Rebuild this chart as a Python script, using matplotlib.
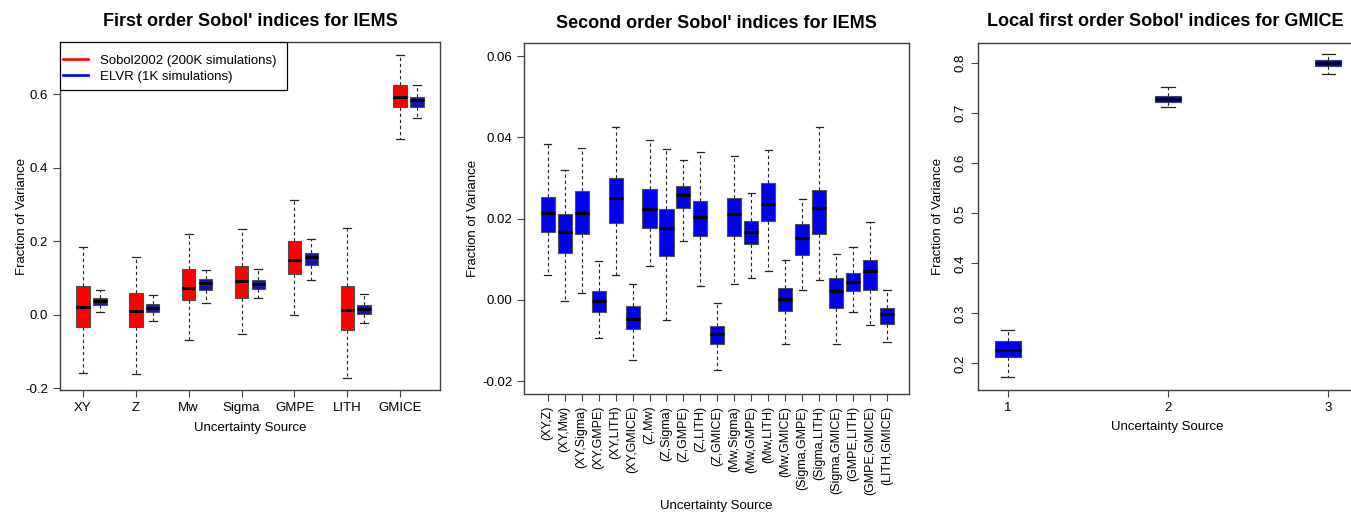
import matplotlib
matplotlib.use("Agg")
import matplotlib.pyplot as plt
from matplotlib.patches import Rectangle

plt.rcParams['font.family'] = ['Liberation Sans', 'DejaVu Sans']
plt.rcParams['axes.unicode_minus'] = False

# first order indices (box stats)
sources = ['XY', 'Z', 'Mw', 'Sigma', 'GMPE', 'LITH', 'GMICE']
sobol_low = [-0.160, -0.162, -0.069, -0.053, -0.002, -0.172, 0.479]
sobol_q1 = [-0.033, -0.033, 0.040, 0.045, 0.110, -0.043, 0.565]
sobol_med = [0.022, 0.010, 0.072, 0.092, 0.149, 0.012, 0.591]
sobol_q3 = [0.078, 0.058, 0.124, 0.133, 0.200, 0.078, 0.625]
sobol_high = [0.184, 0.156, 0.220, 0.234, 0.313, 0.237, 0.706]

elvr_low = [0.006, -0.016, 0.033, 0.045, 0.093, -0.023, 0.534]
elvr_q1 = [0.026, 0.008, 0.067, 0.069, 0.135, 0.002, 0.566]
elvr_med = [0.036, 0.019, 0.085, 0.083, 0.158, 0.015, 0.584]
elvr_q3 = [0.045, 0.028, 0.097, 0.095, 0.169, 0.026, 0.593]
elvr_high = [0.067, 0.054, 0.122, 0.124, 0.205, 0.057, 0.625]

# second order indices
pairs = ['(XY,Z)', '(XY,Mw)', '(XY,Sigma)', '(XY,GMPE)', '(XY,LITH)', '(XY,GMICE)',
         '(Z,Mw)', '(Z,Sigma)', '(Z,GMPE)', '(Z,LITH)', '(Z,GMICE)',
         '(Mw,Sigma)', '(Mw,GMPE)', '(Mw,LITH)', '(Mw,GMICE)',
         '(Sigma,GMPE)', '(Sigma,LITH)', '(Sigma,GMICE)',
         '(GMPE,LITH)', '(GMPE,GMICE)', '(LITH,GMICE)']
so_low = [0.0061, -0.0002, 0.0018, -0.0095, 0.0062, -0.0148, 0.0084, -0.0049, 0.0144, 0.0034,
          -0.0174, 0.0040, 0.0054, 0.0071, -0.0110, 0.0024, 0.0048, -0.0108, -0.0029, -0.0063, -0.0104]
so_q1 = [0.0168, 0.0115, 0.0163, -0.0029, 0.0190, -0.0073, 0.0177, 0.0107, 0.0226, 0.0158,
         -0.0108, 0.0157, 0.0137, 0.0194, -0.0027, 0.0110, 0.0162, -0.0021, 0.0021, 0.0025, -0.0060]
so_med = [0.0215, 0.0168, 0.0213, -0.0002, 0.0250, -0.0048, 0.0225, 0.0176, 0.0259, 0.0203,
          -0.0083, 0.0211, 0.0167, 0.0235, 0.0002, 0.0153, 0.0226, 0.0022, 0.0043, 0.0070, -0.0036]
so_q3 = [0.0253, 0.0212, 0.0267, 0.0022, 0.0299, -0.0016, 0.0272, 0.0225, 0.0280, 0.0243,
         -0.0065, 0.0252, 0.0195, 0.0289, 0.0028, 0.0188, 0.0271, 0.0053, 0.0067, 0.0098, -0.0019]
so_high = [0.0385, 0.0320, 0.0373, 0.0096, 0.0426, 0.0039, 0.0393, 0.0371, 0.0344, 0.0363,
           -0.0007, 0.0354, 0.0262, 0.0370, 0.0098, 0.0249, 0.0427, 0.0112, 0.0129, 0.0192, 0.0024]

# local first order indices for GMICE
local_x = [1, 2, 3]
loc_low = [0.172, 0.712, 0.778]
loc_q1 = [0.212, 0.7227, 0.7947]
loc_med = [0.2267, 0.7287, 0.8007]
loc_q3 = [0.2446, 0.7353, 0.8067]
loc_high = [0.2667, 0.7533, 0.818]


def stats(low, q1, med, q3, high):
    return [dict(whislo=a, q1=b, med=c, q3=d, whishi=e, fliers=[])
            for a, b, c, d, e in zip(low, q1, med, q3, high)]


def draw(ax, st, pos, width, color, capw, edge='#505050', medw=2.2):
    ax.bxp(st, positions=pos, widths=width, capwidths=capw, patch_artist=True,
           showfliers=False, manage_ticks=False,
           boxprops=dict(facecolor=color, edgecolor=edge, linewidth=0.8),
           medianprops=dict(color='black', linewidth=medw, solid_capstyle='butt'),
           whiskerprops=dict(color='#222222', linewidth=0.8, linestyle=(0, (3, 2.5))),
           capprops=dict(color='#222222', linewidth=0.9))


def style(ax):
    for s in ax.spines.values():
        s.set_color('#404040')
        s.set_linewidth(1.0)
    ax.tick_params(direction='out', length=5, width=0.8, color='#404040',
                   labelsize=9.5, pad=3.5)


fig = plt.figure(figsize=(13.51, 5.13), dpi=100)

# ---- left panel
ax1 = fig.add_axes([60 / 1351, 1 - 390 / 513, 380 / 1351, 348 / 513])
pos = list(range(1, len(sources) + 1))
draw(ax1, stats(sobol_low, sobol_q1, sobol_med, sobol_q3, sobol_high), pos, 0.26, '#ff0000', 0.15)
draw(ax1, stats(elvr_low, elvr_q1, elvr_med, elvr_q3, elvr_high), [p + 0.32 for p in pos],
     0.26, '#1414b4', 0.15)
ax1.set_xlim(0.57, 7.75)
ax1.set_ylim(-0.205, 0.742)
ax1.set_xticks(pos)
ax1.set_xticklabels(sources)
ax1.set_yticks([-0.2, 0.0, 0.2, 0.4, 0.6])
ax1.set_yticklabels(['-0.2', '0.0', '0.2', '0.4', '0.6'])
style(ax1)
ax1.set_title("First order Sobol' indices for IEMS", fontsize=13, fontweight='bold',
              y=1.0603, va='center', pad=0)
ax1.set_xlabel('Uncertainty Source', fontsize=9.5)
ax1.xaxis.set_label_coords(0.5, -0.109)
ax1.xaxis.label.set_va('center')
ax1.set_ylabel('Fraction of Variance', fontsize=9.5)
ax1.yaxis.set_label_coords(-0.1, 0.5)
ax1.yaxis.label.set_va('center')
ax1.plot([], [], color='#ff0000', lw=1.9, label='Sobol2002 (200K simulations)')
ax1.plot([], [], color='#0000ff', lw=1.9, label='ELVR (1K simulations)')
ax1.add_patch(Rectangle((0, 0.862), 0.597, 0.138, transform=ax1.transAxes,
                        facecolor='white', edgecolor='black', linewidth=0.9, zorder=4))
leg = ax1.legend(loc='center left', bbox_to_anchor=(3 / 380, 0.923), borderaxespad=0,
                 borderpad=0, fontsize=9.5, frameon=False, handlelength=1.9,
                 handletextpad=0.9, labelspacing=0.26)
leg.set_zorder(5)

# ---- middle panel
ax2 = fig.add_axes([524 / 1351, 1 - 394 / 513, 385 / 1351, 350.7 / 513])
pos2 = list(range(1, len(pairs) + 1))
draw(ax2, stats(so_low, so_q1, so_med, so_q3, so_high), pos2, 0.83, '#0000ee', 0.42)
ax2.set_xlim(-0.4, 22.3)
ax2.set_ylim(-0.0232, 0.0632)
ax2.set_xticks(pos2)
ax2.set_xticklabels(pairs, rotation=90)
ax2.set_yticks([-0.02, 0.0, 0.02, 0.04, 0.06])
ax2.set_yticklabels(['-0.02', '0.00', '0.02', '0.04', '0.06'])
style(ax2)
ax2.tick_params(axis='x', labelsize=9.0)
ax2.set_title("Second order Sobol' indices for IEMS", fontsize=13, fontweight='bold',
              y=1.057, va='center', pad=0)
ax2.set_xlabel('Uncertainty Source', fontsize=9.5)
ax2.xaxis.set_label_coords(0.5, -0.319)
ax2.xaxis.label.set_va('center')
ax2.set_ylabel('Fraction of Variance', fontsize=9.5)
ax2.yaxis.set_label_coords(-0.1325, 0.5)
ax2.yaxis.label.set_va('center')

# ---- right panel
ax3 = fig.add_axes([978.3 / 1351, 1 - 390 / 513, 381.7 / 1351, 347.3 / 513])
draw(ax3, stats(loc_low, loc_q1, loc_med, loc_q3, loc_high), local_x, 0.162, '#0000ee', 0.083,
     edge='#3a3a8a', medw=1.8)
ax3.set_xlim(0.817, 3.197)
ax3.set_ylim(0.147, 0.841)
ax3.set_xticks(local_x)
ax3.set_xticklabels(['1', '2', '3'])
ax3.set_yticks([0.2, 0.3, 0.4, 0.5, 0.6, 0.7, 0.8])
ax3.set_yticklabels(['0.2', '0.3', '0.4', '0.5', '0.6', '0.7', '0.8'], rotation=90, va='center')
style(ax3)
ax3.set_title("Local first order Sobol' indices for GMICE", fontsize=13, fontweight='bold',
              x=0.489, y=1.0605, va='center', pad=0)
ax3.set_xlabel('Uncertainty Source', fontsize=9.5)
ax3.xaxis.set_label_coords(0.494, -0.106)
ax3.xaxis.label.set_va('center')
ax3.set_ylabel('Fraction of Variance', fontsize=9.5)
ax3.yaxis.set_label_coords(-0.1056, 0.5)
ax3.yaxis.label.set_va('center')

fig.savefig('out.png', dpi=100)
